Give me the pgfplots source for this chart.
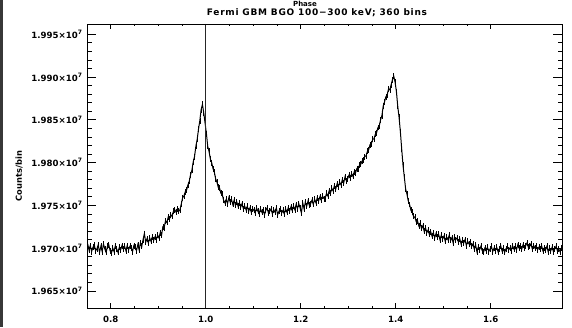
\documentclass[border=0pt]{standalone}
\usepackage{fontspec}
\setmainfont{DejaVu Sans}
\newfontfamily\titlefont[LetterSpace=8]{DejaVu Sans}
\usepackage{pgfplots}
\usepackage{pgfplotstable}
\pgfplotsset{compat=1.18}
% counts per bin in units of 10^4, 360 bins, phase 0.75 .. 1.75
\pgfplotstableread[row sep=\\]{
y\\
1970.5\\1969.8\\1970.3\\1969.6\\1970.1\\1970.4\\1969.7\\1969.9\\1970.4\\1969.5\\
1970.2\\1969.6\\1970.5\\1969.9\\1969.5\\1970.2\\1970.4\\1969.7\\1969.4\\1970.0\\
1969.6\\1970.3\\1969.9\\1969.5\\1970.1\\1969.8\\1970.3\\1969.9\\1970.2\\1969.7\\
1970.3\\1969.8\\1970.2\\1970.0\\1969.6\\1970.3\\1970.1\\1969.7\\1970.4\\1969.8\\
1970.6\\1970.2\\1971.0\\1971.7\\1970.7\\1971.1\\1970.6\\1971.2\\1970.8\\1971.3\\
1970.9\\1971.3\\1971.0\\1971.5\\1971.2\\1971.8\\1971.5\\1972.5\\1972.4\\1973.2\\
1973.0\\1973.6\\1973.4\\1973.9\\1973.7\\1974.3\\1974.5\\1974.2\\1974.6\\1974.3\\
1974.5\\1975.2\\1975.9\\1976.1\\1976.6\\1976.8\\1977.4\\1977.8\\1978.6\\1979.1\\
1980.1\\1980.7\\1981.9\\1982.7\\1983.9\\1984.9\\1986.2\\1986.8\\1985.8\\1984.6\\
1983.4\\1981.9\\1981.3\\1980.4\\1980.0\\1979.3\\1978.9\\1978.1\\1977.7\\1977.1\\
1977.0\\1976.4\\1976.3\\1975.6\\1975.3\\1975.7\\1975.2\\1975.9\\1975.4\\1975.7\\
1975.1\\1975.6\\1975.0\\1975.4\\1974.9\\1975.3\\1974.8\\1975.2\\1974.6\\1974.9\\
1974.5\\1974.9\\1974.3\\1974.7\\1974.2\\1974.6\\1974.4\\1974.1\\1974.7\\1974.3\\
1974.0\\1974.6\\1974.2\\1974.5\\1973.9\\1974.4\\1974.7\\1974.1\\1974.3\\1974.6\\
1974.0\\1974.5\\1974.2\\1974.7\\1973.9\\1974.3\\1974.6\\1974.1\\1974.4\\1974.0\\
1974.6\\1974.2\\1974.7\\1974.3\\1974.8\\1974.4\\1974.9\\1974.5\\1975.1\\1974.6\\
1975.2\\1974.7\\1974.1\\1975.3\\1974.6\\1975.4\\1974.9\\1975.5\\1975.0\\1975.2\\
1975.6\\1975.1\\1975.7\\1975.3\\1975.9\\1975.5\\1976.0\\1975.6\\1976.1\\1975.8\\
1975.8\\1976.4\\1976.1\\1976.7\\1976.4\\1977.0\\1976.7\\1977.3\\1976.9\\1977.5\\
1977.2\\1977.7\\1977.4\\1978.0\\1977.6\\1978.3\\1977.9\\1978.1\\1978.5\\1978.2\\
1978.7\\1978.4\\1978.9\\1978.8\\1979.3\\1979.2\\1979.7\\1979.8\\1980.2\\1980.3\\
1980.7\\1980.8\\1981.3\\1981.5\\1982.1\\1982.2\\1982.7\\1982.8\\1983.3\\1983.5\\
1984.1\\1984.3\\1985.0\\1985.5\\1986.6\\1987.1\\1987.7\\1987.9\\1988.6\\1988.5\\
1989.1\\1989.7\\1990.1\\1989.4\\1988.3\\1986.6\\1985.3\\1983.6\\1981.6\\1979.7\\
1978.3\\1976.9\\1976.3\\1975.5\\1975.1\\1974.4\\1974.2\\1973.7\\1973.6\\1973.1\\
1973.2\\1972.6\\1972.9\\1972.3\\1972.6\\1972.0\\1972.4\\1971.8\\1972.1\\1971.6\\
1971.9\\1971.4\\1971.8\\1971.2\\1971.7\\1971.3\\1971.6\\1971.0\\1971.5\\1971.1\\
1971.4\\1970.8\\1971.3\\1971.0\\1971.5\\1970.9\\1971.2\\1970.6\\1971.3\\1971.0\\
1971.2\\1970.7\\1971.1\\1970.5\\1970.9\\1970.6\\1971.0\\1970.3\\1970.8\\1970.5\\
1970.7\\1970.2\\1970.5\\1969.9\\1970.4\\1969.6\\1970.1\\1969.8\\1970.2\\1969.7\\
1969.5\\1970.0\\1969.7\\1970.1\\1969.6\\1969.9\\1970.2\\1969.6\\1970.0\\1969.7\\
1970.1\\1969.6\\1969.9\\1970.3\\1969.7\\1970.0\\1969.5\\1969.9\\1970.2\\1969.8\\
1970.0\\1969.7\\1970.3\\1969.9\\1970.2\\1969.8\\1970.4\\1970.0\\1970.2\\1969.9\\
1970.4\\1970.0\\1970.3\\1970.6\\1970.1\\1970.2\\1970.5\\1969.9\\1970.3\\1970.0\\
1970.2\\1969.8\\1970.1\\1969.9\\1970.3\\1969.7\\1970.0\\1969.8\\1970.2\\1969.6\\
1970.0\\1969.7\\1970.1\\1969.6\\1969.9\\1970.2\\1969.7\\1969.9\\1969.6\\1970.0\\
}\crab

\begin{document}
\begin{tikzpicture}
\path[use as bounding box] (-87pt,-19pt) rectangle (485pt,308pt);
\fill[black!78] (-87pt,-19pt) rectangle (-84pt,308pt);
\pgfplotsset{
  common/.style={
    scale only axis, width=475pt, height=284pt,
    xmin=0.75, xmax=1.75, ymin=1963, ymax=1996.2,
    tick align=inside,
    axis line style={line width=0.7pt},
    every tick/.style={black, line width=0.7pt},
    ticklabel style={font=\fontsize{8.6}{10}\selectfont\bfseries},
  }
}
\begin{axis}[common,
  xtick={0.8,1.0,1.2,1.4,1.6}, xticklabels={0.8,1.0,1.2,1.4,1.6},
  minor x tick num=3,
  major tick length=5pt, minor tick length=2.5pt,
  ytick=\empty,
  xticklabel style={yshift=-5pt},
]
\addplot[black, line width=1pt, mark=none,
  error bars/.cd, y dir=both, y fixed=0.35, error mark=none,
  error bar style={line width=0.6pt, black}]
  table[x expr=0.751389+\coordindex*0.00277778, y=y] {\crab};
\addplot[black!85, line width=0.9pt, mark=none] coordinates {(1.0,1963) (1.0,1996.2)};
\end{axis}
\begin{axis}[common,
  xtick=\empty,
  ytick={1965,1970,1975,1980,1985,1990,1995},
  yticklabels={1.965×10\textsuperscript{7},1.970×10\textsuperscript{7},1.975×10\textsuperscript{7},1.980×10\textsuperscript{7},1.985×10\textsuperscript{7},1.990×10\textsuperscript{7},1.995×10\textsuperscript{7}},
  minor y tick num=4,
  major tick length=9pt, minor tick length=4.5pt,
  yticklabel style={xshift=-1pt},
]
\end{axis}
\node[rotate=90, font=\fontsize{8.3}{10}\selectfont\bfseries] at (-68pt,132pt) {Counts/bin};
\node[font=\fontsize{7}{8}\selectfont\bfseries] at (218pt,304pt) {Phase};
\node[font=\fontsize{9}{10}\selectfont\titlefont\bfseries] at (230pt,295pt) {Fermi GBM BGO 100−300 keV; 360 bins};
\end{tikzpicture}
\end{document}
